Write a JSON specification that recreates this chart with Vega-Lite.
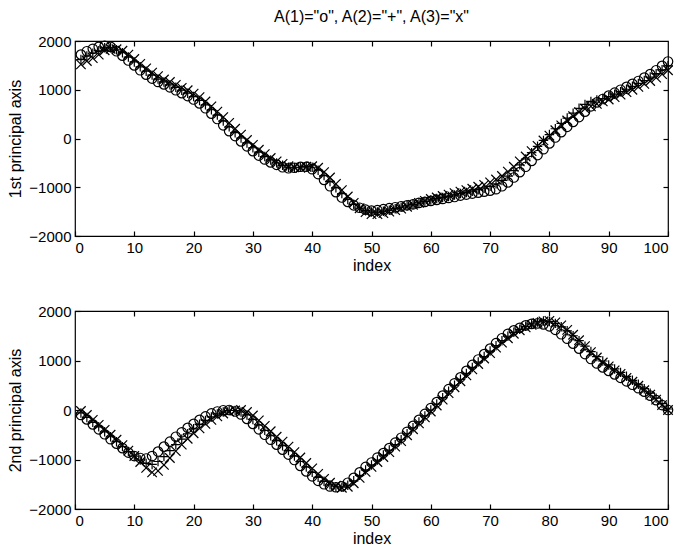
{
  "$schema": "https://vega.github.io/schema/vega-lite/v6.json",
  "background": "white",
  "padding": {"left": 7, "top": 8, "right": 5, "bottom": 0},
  "spacing": 29,
  "config": {
    "font": "Liberation Sans",
    "view": {"stroke": "black", "strokeWidth": 1.2},
    "axis": {"domain": false, "grid": false, "tickColor": "black", "tickSize": -5, "tickWidth": 1.2, "zindex": 1, "labelColor": "black", "labelFontSize": 15, "titleFontSize": 16, "titleFontWeight": "normal", "titleColor": "black", "labelPadding": 9, "titlePadding": 5, "format": "d"},
    "axisX": {"titlePadding": 2},
    "title": {"fontSize": 16, "fontWeight": "normal", "color": "black"}
  },
  "datasets": {
    "d": [
      {"p":1,"i":1,"o":1720,"plus":1620,"x":1520},{"p":1,"i":2,"o":1790,"plus":1690,"x":1590},{"p":1,"i":3,"o":1840,"plus":1750,"x":1650},{"p":1,"i":4,"o":1880,"plus":1800,"x":1720},{"p":1,"i":5,"o":1900,"plus":1860,"x":1810},
      {"p":1,"i":6,"o":1880,"plus":1860,"x":1840},{"p":1,"i":7,"o":1790,"plus":1820,"x":1830},{"p":1,"i":8,"o":1700,"plus":1760,"x":1800},{"p":1,"i":9,"o":1600,"plus":1670,"x":1720},{"p":1,"i":10,"o":1500,"plus":1570,"x":1630},
      {"p":1,"i":11,"o":1400,"plus":1470,"x":1530},{"p":1,"i":12,"o":1310,"plus":1380,"x":1440},{"p":1,"i":13,"o":1230,"plus":1300,"x":1350},{"p":1,"i":14,"o":1160,"plus":1220,"x":1280},{"p":1,"i":15,"o":1110,"plus":1160,"x":1210},
      {"p":1,"i":16,"o":1050,"plus":1100,"x":1160},{"p":1,"i":17,"o":990,"plus":1050,"x":1100},{"p":1,"i":18,"o":930,"plus":990,"x":1040},{"p":1,"i":19,"o":870,"plus":930,"x":990},{"p":1,"i":20,"o":800,"plus":860,"x":920},
      {"p":1,"i":21,"o":720,"plus":780,"x":850},{"p":1,"i":22,"o":620,"plus":690,"x":760},{"p":1,"i":23,"o":510,"plus":590,"x":660},{"p":1,"i":24,"o":400,"plus":480,"x":550},{"p":1,"i":25,"o":270,"plus":360,"x":440},
      {"p":1,"i":26,"o":150,"plus":240,"x":320},{"p":1,"i":27,"o":50,"plus":120,"x":200},{"p":1,"i":28,"o":-60,"plus":10,"x":80},{"p":1,"i":29,"o":-160,"plus":-90,"x":-30},{"p":1,"i":30,"o":-260,"plus":-190,"x":-130},
      {"p":1,"i":31,"o":-350,"plus":-280,"x":-230},{"p":1,"i":32,"o":-430,"plus":-370,"x":-320},{"p":1,"i":33,"o":-490,"plus":-440,"x":-400},{"p":1,"i":34,"o":-540,"plus":-500,"x":-470},{"p":1,"i":35,"o":-590,"plus":-550,"x":-520},
      {"p":1,"i":36,"o":-610,"plus":-590,"x":-570},{"p":1,"i":37,"o":-600,"plus":-600,"x":-590},{"p":1,"i":38,"o":-580,"plus":-590,"x":-600},{"p":1,"i":39,"o":-580,"plus":-570,"x":-580},{"p":1,"i":40,"o":-630,"plus":-590,"x":-570},
      {"p":1,"i":41,"o":-730,"plus":-650,"x":-600},{"p":1,"i":42,"o":-850,"plus":-760,"x":-690},{"p":1,"i":43,"o":-980,"plus":-880,"x":-800},{"p":1,"i":44,"o":-1100,"plus":-1010,"x":-930},{"p":1,"i":45,"o":-1210,"plus":-1130,"x":-1060},
      {"p":1,"i":46,"o":-1300,"plus":-1250,"x":-1190},{"p":1,"i":47,"o":-1370,"plus":-1350,"x":-1320},{"p":1,"i":48,"o":-1420,"plus":-1430,"x":-1430},{"p":1,"i":49,"o":-1460,"plus":-1480,"x":-1510},{"p":1,"i":50,"o":-1480,"plus":-1510,"x":-1550},
      {"p":1,"i":51,"o":-1470,"plus":-1510,"x":-1550},{"p":1,"i":52,"o":-1450,"plus":-1490,"x":-1530},{"p":1,"i":53,"o":-1430,"plus":-1470,"x":-1500},{"p":1,"i":54,"o":-1410,"plus":-1440,"x":-1470},{"p":1,"i":55,"o":-1390,"plus":-1410,"x":-1440},
      {"p":1,"i":56,"o":-1370,"plus":-1380,"x":-1400},{"p":1,"i":57,"o":-1350,"plus":-1350,"x":-1360},{"p":1,"i":58,"o":-1320,"plus":-1320,"x":-1320},{"p":1,"i":59,"o":-1300,"plus":-1290,"x":-1280},{"p":1,"i":60,"o":-1280,"plus":-1260,"x":-1240},
      {"p":1,"i":61,"o":-1260,"plus":-1230,"x":-1210},{"p":1,"i":62,"o":-1240,"plus":-1210,"x":-1180},{"p":1,"i":63,"o":-1220,"plus":-1190,"x":-1150},{"p":1,"i":64,"o":-1200,"plus":-1160,"x":-1120},{"p":1,"i":65,"o":-1170,"plus":-1130,"x":-1090},
      {"p":1,"i":66,"o":-1150,"plus":-1110,"x":-1060},{"p":1,"i":67,"o":-1130,"plus":-1080,"x":-1030},{"p":1,"i":68,"o":-1110,"plus":-1050,"x":-990},{"p":1,"i":69,"o":-1090,"plus":-1020,"x":-950},{"p":1,"i":70,"o":-1070,"plus":-980,"x":-900},
      {"p":1,"i":71,"o":-1040,"plus":-930,"x":-840},{"p":1,"i":72,"o":-980,"plus":-860,"x":-770},{"p":1,"i":73,"o":-900,"plus":-770,"x":-680},{"p":1,"i":74,"o":-800,"plus":-660,"x":-580},{"p":1,"i":75,"o":-690,"plus":-540,"x":-470},
      {"p":1,"i":76,"o":-580,"plus":-420,"x":-370},{"p":1,"i":77,"o":-460,"plus":-290,"x":-260},{"p":1,"i":78,"o":-340,"plus":-160,"x":-150},{"p":1,"i":79,"o":-220,"plus":-40,"x":-40},{"p":1,"i":80,"o":-100,"plus":80,"x":60},
      {"p":1,"i":81,"o":20,"plus":200,"x":170},{"p":1,"i":82,"o":130,"plus":310,"x":270},{"p":1,"i":83,"o":240,"plus":420,"x":370},{"p":1,"i":84,"o":340,"plus":520,"x":460},{"p":1,"i":85,"o":440,"plus":620,"x":540},
      {"p":1,"i":86,"o":550,"plus":700,"x":610},{"p":1,"i":87,"o":660,"plus":760,"x":660},{"p":1,"i":88,"o":740,"plus":790,"x":710},{"p":1,"i":89,"o":810,"plus":820,"x":760},{"p":1,"i":90,"o":880,"plus":860,"x":800},
      {"p":1,"i":91,"o":940,"plus":910,"x":850},{"p":1,"i":92,"o":1000,"plus":960,"x":900},{"p":1,"i":93,"o":1060,"plus":1010,"x":950},{"p":1,"i":94,"o":1120,"plus":1070,"x":1000},{"p":1,"i":95,"o":1180,"plus":1130,"x":1060},
      {"p":1,"i":96,"o":1250,"plus":1190,"x":1120},{"p":1,"i":97,"o":1320,"plus":1260,"x":1180},{"p":1,"i":98,"o":1400,"plus":1330,"x":1250},{"p":1,"i":99,"o":1490,"plus":1410,"x":1320},{"p":1,"i":100,"o":1580,"plus":1490,"x":1400},
      {"p":2,"i":1,"o":-100,"plus":-60,"x":-20},{"p":2,"i":2,"o":-190,"plus":-150,"x":-100},{"p":2,"i":3,"o":-290,"plus":-250,"x":-200},{"p":2,"i":4,"o":-390,"plus":-340,"x":-300},{"p":2,"i":5,"o":-490,"plus":-440,"x":-400},
      {"p":2,"i":6,"o":-590,"plus":-540,"x":-500},{"p":2,"i":7,"o":-680,"plus":-640,"x":-600},{"p":2,"i":8,"o":-770,"plus":-740,"x":-710},{"p":2,"i":9,"o":-860,"plus":-840,"x":-820},{"p":2,"i":10,"o":-930,"plus":-930,"x":-930},
      {"p":2,"i":11,"o":-970,"plus":-1010,"x":-1050},{"p":2,"i":12,"o":-980,"plus":-1080,"x":-1170},{"p":2,"i":13,"o":-930,"plus":-1100,"x":-1260},{"p":2,"i":14,"o":-840,"plus":-1040,"x":-1230},{"p":2,"i":15,"o":-740,"plus":-940,"x":-1110},
      {"p":2,"i":16,"o":-640,"plus":-820,"x":-970},{"p":2,"i":17,"o":-540,"plus":-700,"x":-830},{"p":2,"i":18,"o":-450,"plus":-590,"x":-700},{"p":2,"i":19,"o":-360,"plus":-480,"x":-580},{"p":2,"i":20,"o":-280,"plus":-380,"x":-470},
      {"p":2,"i":21,"o":-200,"plus":-290,"x":-370},{"p":2,"i":22,"o":-130,"plus":-210,"x":-280},{"p":2,"i":23,"o":-70,"plus":-140,"x":-200},{"p":2,"i":24,"o":-30,"plus":-80,"x":-130},{"p":2,"i":25,"o":-5,"plus":-40,"x":-70},
      {"p":2,"i":26,"o":0,"plus":-10,"x":-30},{"p":2,"i":27,"o":-30,"plus":-10,"x":-10},{"p":2,"i":28,"o":-90,"plus":-40,"x":0},{"p":2,"i":29,"o":-180,"plus":-100,"x":-40},{"p":2,"i":30,"o":-280,"plus":-190,"x":-110},
      {"p":2,"i":31,"o":-390,"plus":-300,"x":-210},{"p":2,"i":32,"o":-500,"plus":-410,"x":-320},{"p":2,"i":33,"o":-600,"plus":-520,"x":-430},{"p":2,"i":34,"o":-700,"plus":-620,"x":-540},{"p":2,"i":35,"o":-800,"plus":-720,"x":-640},
      {"p":2,"i":36,"o":-900,"plus":-820,"x":-740},{"p":2,"i":37,"o":-1010,"plus":-930,"x":-850},{"p":2,"i":38,"o":-1130,"plus":-1040,"x":-960},{"p":2,"i":39,"o":-1240,"plus":-1150,"x":-1070},{"p":2,"i":40,"o":-1340,"plus":-1260,"x":-1180},
      {"p":2,"i":41,"o":-1430,"plus":-1360,"x":-1290},{"p":2,"i":42,"o":-1500,"plus":-1440,"x":-1390},{"p":2,"i":43,"o":-1545,"plus":-1510,"x":-1470},{"p":2,"i":44,"o":-1560,"plus":-1550,"x":-1530},{"p":2,"i":45,"o":-1540,"plus":-1560,"x":-1570},
      {"p":2,"i":46,"o":-1470,"plus":-1520,"x":-1550},{"p":2,"i":47,"o":-1370,"plus":-1430,"x":-1480},{"p":2,"i":48,"o":-1260,"plus":-1320,"x":-1370},{"p":2,"i":49,"o":-1150,"plus":-1210,"x":-1250},{"p":2,"i":50,"o":-1060,"plus":-1110,"x":-1150},
      {"p":2,"i":51,"o":-960,"plus":-1010,"x":-1050},{"p":2,"i":52,"o":-870,"plus":-910,"x":-950},{"p":2,"i":53,"o":-770,"plus":-810,"x":-850},{"p":2,"i":54,"o":-660,"plus":-700,"x":-740},{"p":2,"i":55,"o":-560,"plus":-600,"x":-630},
      {"p":2,"i":56,"o":-440,"plus":-480,"x":-510},{"p":2,"i":57,"o":-320,"plus":-360,"x":-390},{"p":2,"i":58,"o":-200,"plus":-240,"x":-270},{"p":2,"i":59,"o":-80,"plus":-120,"x":-150},{"p":2,"i":60,"o":40,"plus":0,"x":-30},
      {"p":2,"i":61,"o":160,"plus":120,"x":90},{"p":2,"i":62,"o":290,"plus":250,"x":210},{"p":2,"i":63,"o":420,"plus":380,"x":340},{"p":2,"i":64,"o":540,"plus":500,"x":460},{"p":2,"i":65,"o":660,"plus":620,"x":580},
      {"p":2,"i":66,"o":790,"plus":740,"x":700},{"p":2,"i":67,"o":910,"plus":860,"x":820},{"p":2,"i":68,"o":1020,"plus":970,"x":930},{"p":2,"i":69,"o":1130,"plus":1080,"x":1040},{"p":2,"i":70,"o":1240,"plus":1190,"x":1150},
      {"p":2,"i":71,"o":1350,"plus":1300,"x":1260},{"p":2,"i":72,"o":1450,"plus":1400,"x":1360},{"p":2,"i":73,"o":1540,"plus":1490,"x":1450},{"p":2,"i":74,"o":1610,"plus":1570,"x":1540},{"p":2,"i":75,"o":1660,"plus":1630,"x":1610},
      {"p":2,"i":76,"o":1710,"plus":1690,"x":1670},{"p":2,"i":77,"o":1740,"plus":1740,"x":1720},{"p":2,"i":78,"o":1750,"plus":1780,"x":1760},{"p":2,"i":79,"o":1730,"plus":1800,"x":1790},{"p":2,"i":80,"o":1690,"plus":1790,"x":1800},
      {"p":2,"i":81,"o":1620,"plus":1750,"x":1770},{"p":2,"i":82,"o":1530,"plus":1680,"x":1710},{"p":2,"i":83,"o":1440,"plus":1600,"x":1620},{"p":2,"i":84,"o":1340,"plus":1500,"x":1520},{"p":2,"i":85,"o":1240,"plus":1400,"x":1410},
      {"p":2,"i":86,"o":1130,"plus":1290,"x":1290},{"p":2,"i":87,"o":1030,"plus":1180,"x":1170},{"p":2,"i":88,"o":940,"plus":1080,"x":1060},{"p":2,"i":89,"o":860,"plus":990,"x":960},{"p":2,"i":90,"o":790,"plus":910,"x":880},
      {"p":2,"i":91,"o":720,"plus":830,"x":800},{"p":2,"i":92,"o":650,"plus":760,"x":730},{"p":2,"i":93,"o":580,"plus":680,"x":650},{"p":2,"i":94,"o":510,"plus":600,"x":570},{"p":2,"i":95,"o":440,"plus":520,"x":490},
      {"p":2,"i":96,"o":370,"plus":430,"x":400},{"p":2,"i":97,"o":290,"plus":340,"x":310},{"p":2,"i":98,"o":200,"plus":240,"x":210},{"p":2,"i":99,"o":100,"plus":130,"x":100},{"p":2,"i":100,"o":0,"plus":20,"x":0}
    ]
  },
  "vconcat": [
    {
      "width": 593,
      "height": 195,
      "title": {"text": "A(1)=\"o\", A(2)=\"+\", A(3)=\"x\"", "anchor": "middle", "offset": 9},
      "data": {"name": "d"},
      "transform": [{"filter": "datum.p == 1"}, {"fold": ["o", "plus", "x"], "as": ["s", "v"]}],
      "layer": [
        {
          "mark": {"type": "point", "filled": false, "color": "black", "strokeWidth": 1.2, "size": 90, "opacity": 1},
          "encoding": {
            "x": {"field": "i", "type": "quantitative", "scale": {"domain": [0, 100], "nice": false}, "axis": {"title": "index", "values": [0, 10, 20, 30, 40, 50, 60, 70, 80, 90, 100]}},
            "y": {"field": "v", "type": "quantitative", "scale": {"domain": [-2000, 2000], "nice": false}, "axis": {"title": "1st principal axis", "values": [-2000, -1000, 0, 1000, 2000]}},
            "shape": {"field": "s", "type": "nominal", "scale": {"domain": ["o", "plus", "x"], "range": ["circle", "M-1,0L1,0M0,-1L0,1", "M-1,-1L1,1M-1,1L1,-1"]}, "legend": null}
          }
        },
        {
          "mark": {"type": "point", "opacity": 0},
          "encoding": {
            "x": {"field": "i", "type": "quantitative", "axis": {"orient": "top", "labels": false, "title": null, "values": [10, 20, 30, 40, 50, 60, 70, 80, 90]}},
            "y": {"field": "v", "type": "quantitative", "axis": {"orient": "right", "labels": false, "title": null, "values": [-1000, 0, 1000]}}
          }
        }
      ],
      "resolve": {"axis": {"x": "independent", "y": "independent"}}
    },
    {
      "width": 593,
      "height": 198,
      "data": {"name": "d"},
      "transform": [{"filter": "datum.p == 2"}, {"fold": ["o", "plus", "x"], "as": ["s", "v"]}],
      "layer": [
        {
          "mark": {"type": "point", "filled": false, "color": "black", "strokeWidth": 1.2, "size": 90, "opacity": 1},
          "encoding": {
            "x": {"field": "i", "type": "quantitative", "scale": {"domain": [0, 100], "nice": false}, "axis": {"title": "index", "values": [0, 10, 20, 30, 40, 50, 60, 70, 80, 90, 100]}},
            "y": {"field": "v", "type": "quantitative", "scale": {"domain": [-2000, 2000], "nice": false}, "axis": {"title": "2nd principal axis", "values": [-2000, -1000, 0, 1000, 2000]}},
            "shape": {"field": "s", "type": "nominal", "scale": {"domain": ["o", "plus", "x"], "range": ["circle", "M-1,0L1,0M0,-1L0,1", "M-1,-1L1,1M-1,1L1,-1"]}, "legend": null}
          }
        },
        {
          "mark": {"type": "point", "opacity": 0},
          "encoding": {
            "x": {"field": "i", "type": "quantitative", "axis": {"orient": "top", "labels": false, "title": null, "values": [10, 20, 30, 40, 50, 60, 70, 80, 90]}},
            "y": {"field": "v", "type": "quantitative", "axis": {"orient": "right", "labels": false, "title": null, "values": [-1000, 0, 1000]}}
          }
        }
      ],
      "resolve": {"axis": {"x": "independent", "y": "independent"}}
    }
  ]
}
